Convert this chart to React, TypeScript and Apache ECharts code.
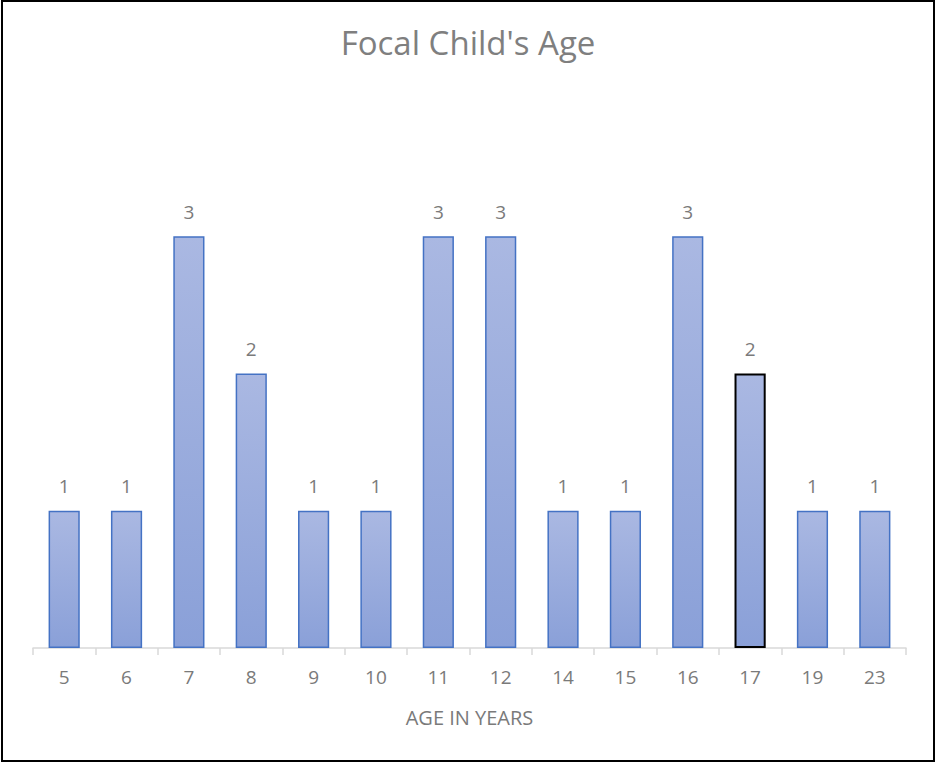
import React, { useEffect, useRef } from "react";
import * as echarts from "echarts";

const ages: string[] = ["5", "6", "7", "8", "9", "10", "11", "12", "14", "15", "16", "17", "19", "23"];
const counts: number[] = [1, 1, 3, 2, 1, 1, 3, 3, 1, 1, 3, 2, 1, 1];
const highlighted = "17";

const FONT = "'Open Sans', 'Noto Sans', sans-serif";
const TEXT_GRAY = "#7a7a7a";

export default function App() {
  const ref = useRef<HTMLDivElement>(null);

  useEffect(() => {
    document.body.style.margin = "0";
    if (!ref.current) return;
    const chart = echarts.init(ref.current, undefined, { renderer: "svg" });
    const fill = new echarts.graphic.LinearGradient(0, 0, 0, 1, [
      { offset: 0, color: "#aab8e2" },
      { offset: 1, color: "#8aa0d8" },
    ]);
    chart.setOption({
      animation: false,
      backgroundColor: "#ffffff",
      title: {
        text: "Focal Child's Age",
        left: "center",
        top: 21,
        textStyle: { fontFamily: FONT, fontSize: 33, fontWeight: "normal", color: "#7f7f7f" },
      },
      grid: { left: 33, right: 30, top: 99, bottom: 115 },
      xAxis: {
        type: "category",
        data: ages,
        name: "AGE IN YEARS",
        nameLocation: "middle",
        nameGap: 59,
        nameTextStyle: { fontFamily: FONT, fontSize: 20, color: TEXT_GRAY },
        axisLine: { lineStyle: { color: "#d9d9d9", width: 1.5 } },
        axisTick: { show: true, length: 7, lineStyle: { color: "#d9d9d9", width: 1.5 } },
        axisLabel: { fontFamily: FONT, fontSize: 19, color: TEXT_GRAY, margin: 19 },
      },
      yAxis: {
        type: "value",
        min: 0,
        max: 4,
        show: false,
        splitLine: { show: false },
      },
      series: [
        {
          type: "bar",
          barWidth: "50%",
          data: counts.map((v, i) => ({
            value: v,
            itemStyle:
              ages[i] === highlighted
                ? { color: fill, borderColor: "#000000", borderWidth: 2 }
                : { color: fill, borderColor: "#4472c4", borderWidth: 1.5 },
          })),
          label: {
            show: true,
            position: "top",
            distance: 15,
            fontFamily: FONT,
            fontSize: 19,
            color: TEXT_GRAY,
          },
        },
      ],
    });
    return () => chart.dispose();
  }, []);

  return (
    <div style={{ position: "absolute", left: 0, top: 0, width: 936, height: 763 }}>
      <div ref={ref} style={{ position: "absolute", left: 0, top: 0, width: 936, height: 763 }} />
      <div
        style={{
          position: "absolute",
          left: 1,
          top: 0,
          width: 934,
          height: 762,
          boxSizing: "border-box",
          border: "2px solid #000",
          pointerEvents: "none",
        }}
      />
    </div>
  );
}
